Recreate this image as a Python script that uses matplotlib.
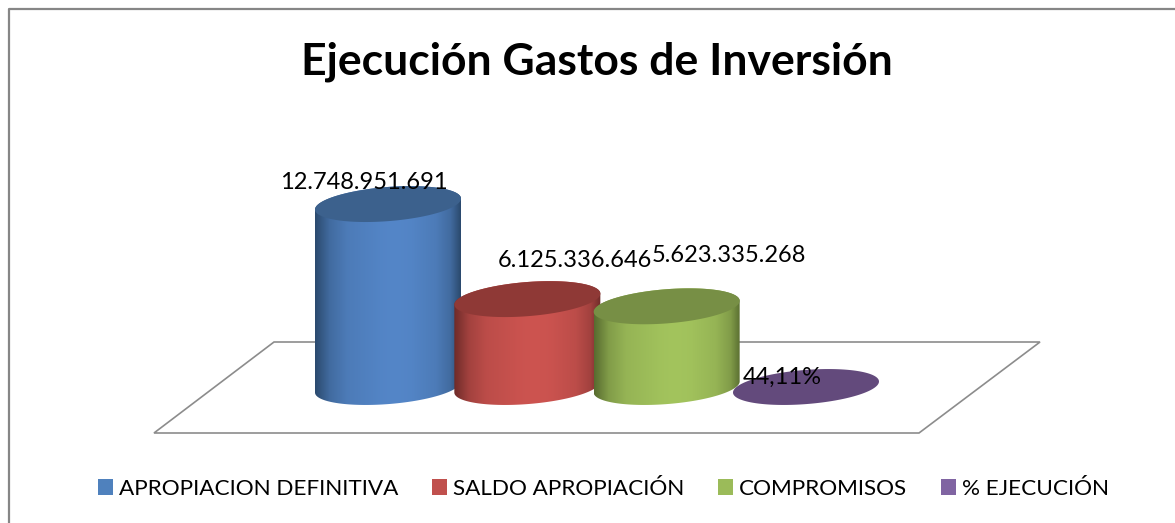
import numpy as np
import matplotlib
matplotlib.use("Agg")
import matplotlib.pyplot as plt
from matplotlib.patches import Polygon, Patch
from matplotlib.colors import LinearSegmentedColormap, to_rgb
from matplotlib.lines import Line2D

categories = ["APROPIACION DEFINITIVA", "SALDO APROPIACIÓN", "COMPROMISOS", "% EJECUCIÓN"]
values = [12748951691, 6125336646, 5623335268, 0.4411]
value_labels = ["12.748.951.691", "6.125.336.646", "5.623.335.268", "44,11%"]
title = "Ejecución Gastos de Inversión"

W, H = 1175, 523
PX_PER_CAT = 139.33
PX_PER_VAL = 14.35e-9
X0, Y0 = 388.0, 387.0

bright = ["#5486c8", "#cd5450", "#a3c45d", "#8064a2"]
edge = ["#2b4a6e", "#6e2b29", "#586c30", "#4f3d63"]
topc = ["#3c618d", "#8f3936", "#778f45", "#634a7c"]
legend_c = ["#4f81bd", "#c0504d", "#9bbb59", "#8064a2"]
label_off = [(-24, 22), (48, 39), (62, 51), (-24, 10)]  # px offsets from the top centre

plt.rcParams["font.family"] = ["Lato", "DejaVu Sans"]
fig = plt.figure(figsize=(W / 100, H / 100), dpi=100)
ax = fig.add_axes([0, 0, 1, 1])
xlim = (-X0 / PX_PER_CAT, (W - X0) / PX_PER_CAT)
ylim = (-(H - Y0) / PX_PER_VAL, Y0 / PX_PER_VAL)
ax.axis("off")

def xp(p):
    return xlim[0] + np.asarray(p, float) / PX_PER_CAT
def yp(p):
    return ylim[1] - np.asarray(p, float) / PX_PER_VAL

# chart frame (left and top only)
ax.add_line(Line2D(xp([9, 9, W]), yp([H, 9, 9]), color="#868686", lw=1.6, zorder=1))
# floor
ax.add_patch(Polygon(np.c_[xp([154, 919, 1040, 274]), yp([433, 433, 342, 342])],
                     closed=True, fill=False, ec="#8c8c8c", lw=1.2, zorder=1))

A, SH, B = 73.0, 5.5, 17.1
def ring(i, v, t):
    return (i + A * np.cos(t) / PX_PER_CAT,
            v + (SH * np.cos(t) + B * np.sin(t)) / PX_PER_VAL)

def mix(a, b, f):
    a, b = np.array(to_rgb(a)), np.array(to_rgb(b))
    return tuple(a + (b - a) * f)

for i, v in enumerate(values):
    z = 3 + i
    t = np.linspace(0, 2 * np.pi, 241)
    if v > 1:
        lo = np.linspace(np.pi, 2 * np.pi, 121)
        hi = np.linspace(0, np.pi, 121)
        bx, by = ring(i, 0, lo)
        tx, ty = ring(i, v, hi)
        body = Polygon(np.c_[np.r_[bx, tx], np.r_[by, ty]], closed=True, fc="none", ec="none", zorder=z)
        ax.add_patch(body)
        stops = [(0, 0), (.10, .55), (.22, .82), (.45, .97), (.55, 1), (.66, .97), (.83, .82), (.93, .55), (1, 0)]
        cmap = LinearSegmentedColormap.from_list(
            "c", [(p, mix(edge[i], bright[i], f)) for p, f in stops])
        im = ax.imshow(np.linspace(0, 1, 256)[None, :], cmap=cmap, vmin=0, vmax=1, aspect="auto",
                       extent=(i - A / PX_PER_CAT, i + A / PX_PER_CAT, by.min(), ty.max()),
                       zorder=z, interpolation="bilinear")
        im.set_clip_path(body)
    tx, ty = ring(i, v, t)
    ax.add_patch(Polygon(np.c_[tx, ty], closed=True, fc=topc[i], ec="none", zorder=z + .1))
    ax.annotate(value_labels[i], (i, v), xytext=(label_off[i][0] * .72, label_off[i][1] * .72),
                textcoords="offset points", ha="center", va="center", fontsize=17,
                color="black", zorder=20)

ax.set_xlim(xlim)
ax.set_ylim(ylim)

fig.text(597 / W, 1 - 62 / H, title, fontsize=32, fontweight="bold", ha="center", va="center", color="black")

handles = [Patch(fc=c, ec="none") for c in legend_c]
fs = 16.2
ax.legend(handles, categories, ncol=4, loc="center left", bbox_to_anchor=(98 / W, 1 - 489 / H),
          bbox_transform=fig.transFigure, frameon=False, fontsize=fs, borderpad=0, borderaxespad=0,
          handlelength=10.8 / fs, handleheight=10.8 / fs, handletextpad=4.3 / fs,
          columnspacing=24.4 / fs, labelspacing=0)
fig.savefig("out.png", dpi=100, facecolor="white")
